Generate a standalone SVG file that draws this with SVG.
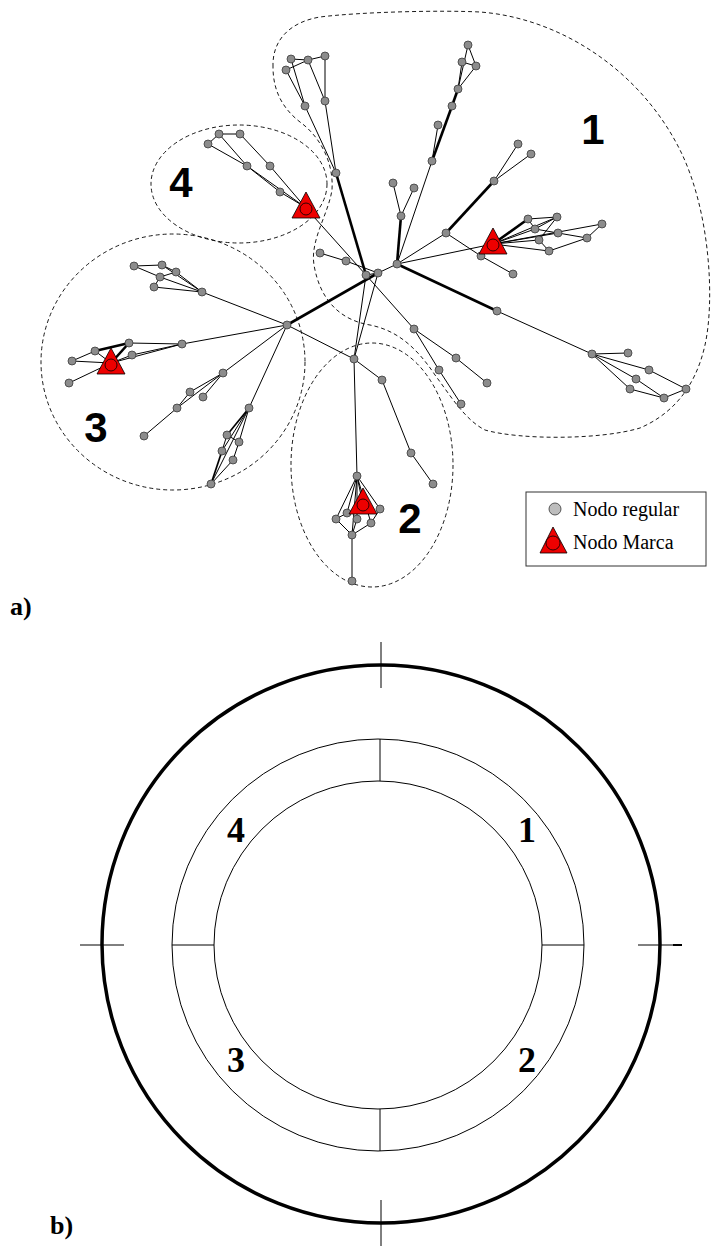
<svg xmlns="http://www.w3.org/2000/svg" width="711" height="1254" viewBox="0 0 711 1254">
<style>
.n{fill:#8c8c8c;stroke:#3a3a3a;stroke-width:0.8}
.e{stroke:#000;stroke-width:1;fill:none}
.m{stroke:#000;stroke-width:1.7;fill:none}
.t{stroke:#000;stroke-width:2.6;fill:none}
.d{fill:none;stroke:#000;stroke-width:0.9;stroke-dasharray:4,3}
.tri{fill:#ee0000;stroke:#000;stroke-width:0.8}
.cl{font-family:'Liberation Sans',Arial,sans-serif;font-weight:bold;font-size:42px;fill:#000}
.rl{font-family:'Liberation Serif','Times New Roman',serif;font-weight:bold;font-size:36px;fill:#000}
.lg{font-family:'Liberation Serif','Times New Roman',serif;font-size:20px;fill:#000}
.r{fill:none;stroke:#000;stroke-width:1}
</style>
<defs>
<g id="mark"><polygon points="0,-15 -14,11 14,11"/><circle cx="0" cy="2" r="6"/></g>
</defs>
<g id="clusters">
<path class="d" d="M273,67 C272,40 290,22 320,17 C360,12 440,10 480,12 C560,18 640,70 680,150 C710,210 715,300 705,345 C695,390 670,415 640,428 C600,440 520,440 485,430 C465,420 450,395 435,375 C415,345 395,330 370,325 C340,320 320,300 314,265 C310,240 328,215 332,190 C334,160 318,135 300,122 C282,108 273,90 273,67 Z"/>
<ellipse class="d" cx="239" cy="184" rx="88" ry="59"/>
<ellipse class="d" cx="173" cy="362" rx="132" ry="128"/>
<ellipse class="d" cx="372" cy="465" rx="81" ry="122"/>
</g>
<g id="connectors">
<line class="e" x1="291" y1="59" x2="308" y2="60"/>
<line class="e" x1="308" y1="60" x2="325" y2="56"/>
<line class="e" x1="286" y1="70" x2="308" y2="60"/>
<line class="e" x1="325" y1="56" x2="325" y2="101"/>
<line class="e" x1="291" y1="59" x2="305" y2="106"/>
<line class="e" x1="286" y1="70" x2="305" y2="106"/>
<line class="e" x1="308" y1="60" x2="325" y2="101"/>
<line class="e" x1="305" y1="106" x2="336" y2="173"/>
<line class="e" x1="325" y1="101" x2="336" y2="173"/>
<line class="t" x1="336" y1="173" x2="366" y2="275"/>
<line class="e" x1="219" y1="134" x2="240" y2="134"/>
<line class="e" x1="208" y1="144" x2="219" y2="134"/>
<line class="e" x1="219" y1="134" x2="247" y2="166"/>
<line class="e" x1="208" y1="144" x2="247" y2="166"/>
<line class="e" x1="240" y1="134" x2="270" y2="166"/>
<line class="e" x1="247" y1="166" x2="280" y2="192"/>
<line class="e" x1="247" y1="166" x2="305" y2="207"/>
<line class="e" x1="270" y1="166" x2="305" y2="207"/>
<line class="e" x1="280" y1="192" x2="305" y2="207"/>
<line class="e" x1="305" y1="207" x2="366" y2="275"/>
<line class="e" x1="366" y1="275" x2="414" y2="329"/>
<line class="e" x1="320" y1="253" x2="346" y2="261"/>
<line class="e" x1="346" y1="261" x2="378" y2="273"/>
<line class="e" x1="366" y1="275" x2="378" y2="273"/>
<line class="e" x1="378" y1="273" x2="397" y2="264"/>
<line class="t" x1="397" y1="264" x2="401" y2="216"/>
<line class="e" x1="397" y1="264" x2="432" y2="161"/>
<line class="e" x1="397" y1="264" x2="446" y2="233"/>
<line class="e" x1="397" y1="264" x2="493" y2="244"/>
<line class="t" x1="397" y1="264" x2="497" y2="311"/>
<line class="t" x1="378" y1="273" x2="287" y2="325"/>
<line class="e" x1="366" y1="275" x2="354" y2="359"/>
<line class="e" x1="378" y1="273" x2="354" y2="359"/>
<line class="e" x1="401" y1="216" x2="393" y2="183"/>
<line class="e" x1="401" y1="216" x2="414" y2="188"/>
<line class="e" x1="432" y1="161" x2="438" y2="125"/>
<line class="t" x1="432" y1="161" x2="452" y2="106"/>
<line class="t" x1="452" y1="106" x2="458" y2="89"/>
<line class="e" x1="458" y1="89" x2="468" y2="45"/>
<line class="e" x1="458" y1="89" x2="462" y2="62"/>
<line class="e" x1="458" y1="89" x2="476" y2="66"/>
<line class="e" x1="468" y1="45" x2="476" y2="66"/>
<line class="e" x1="462" y1="62" x2="476" y2="66"/>
<line class="e" x1="494" y1="181" x2="518" y2="144"/>
<line class="e" x1="494" y1="181" x2="531" y2="154"/>
<line class="t" x1="494" y1="181" x2="446" y2="233"/>
<line class="e" x1="446" y1="233" x2="481" y2="256"/>
<line class="e" x1="481" y1="256" x2="513" y2="274"/>
<line class="t" x1="493" y1="244" x2="528" y2="219"/>
<line class="e" x1="493" y1="244" x2="557" y2="217"/>
<line class="e" x1="493" y1="244" x2="535" y2="229"/>
<line class="e" x1="493" y1="244" x2="558" y2="233"/>
<line class="e" x1="493" y1="244" x2="602" y2="224"/>
<line class="e" x1="493" y1="244" x2="539" y2="240"/>
<line class="e" x1="493" y1="244" x2="549" y2="251"/>
<line class="e" x1="528" y1="219" x2="557" y2="217"/>
<line class="e" x1="528" y1="219" x2="535" y2="229"/>
<line class="e" x1="557" y1="217" x2="535" y2="229"/>
<line class="e" x1="557" y1="217" x2="539" y2="240"/>
<line class="e" x1="535" y1="229" x2="558" y2="233"/>
<line class="e" x1="558" y1="233" x2="587" y2="238"/>
<line class="e" x1="602" y1="224" x2="587" y2="238"/>
<line class="e" x1="539" y1="240" x2="549" y2="251"/>
<line class="e" x1="549" y1="251" x2="587" y2="238"/>
<line class="e" x1="497" y1="311" x2="592" y2="354"/>
<line class="e" x1="592" y1="354" x2="628" y2="353"/>
<line class="e" x1="592" y1="354" x2="649" y2="370"/>
<line class="e" x1="592" y1="354" x2="636" y2="379"/>
<line class="e" x1="592" y1="354" x2="630" y2="389"/>
<line class="e" x1="649" y1="370" x2="686" y2="389"/>
<line class="e" x1="636" y1="379" x2="664" y2="398"/>
<line class="e" x1="630" y1="389" x2="664" y2="398"/>
<line class="e" x1="664" y1="398" x2="686" y2="389"/>
<line class="e" x1="414" y1="329" x2="456" y2="358"/>
<line class="e" x1="456" y1="358" x2="487" y2="383"/>
<line class="e" x1="414" y1="329" x2="439" y2="370"/>
<line class="e" x1="439" y1="370" x2="461" y2="404"/>
<line class="e" x1="287" y1="325" x2="354" y2="359"/>
<line class="e" x1="354" y1="359" x2="357" y2="476"/>
<line class="e" x1="354" y1="359" x2="382" y2="380"/>
<line class="e" x1="382" y1="380" x2="411" y2="453"/>
<line class="e" x1="411" y1="453" x2="433" y2="484"/>
<line class="e" x1="357" y1="476" x2="363" y2="505"/>
<line class="e" x1="357" y1="476" x2="347" y2="513"/>
<line class="e" x1="357" y1="476" x2="380" y2="509"/>
<line class="e" x1="357" y1="476" x2="336" y2="519"/>
<line class="e" x1="357" y1="476" x2="357" y2="519"/>
<line class="e" x1="357" y1="476" x2="371" y2="523"/>
<line class="e" x1="357" y1="476" x2="352" y2="535"/>
<line class="e" x1="336" y1="519" x2="347" y2="513"/>
<line class="e" x1="336" y1="519" x2="352" y2="535"/>
<line class="e" x1="352" y1="535" x2="371" y2="523"/>
<line class="e" x1="371" y1="523" x2="380" y2="509"/>
<line class="e" x1="357" y1="519" x2="352" y2="535"/>
<line class="e" x1="352" y1="535" x2="352" y2="581"/>
<line class="e" x1="134" y1="266" x2="162" y2="265"/>
<line class="e" x1="134" y1="266" x2="160" y2="277"/>
<line class="e" x1="162" y1="265" x2="176" y2="272"/>
<line class="e" x1="160" y1="277" x2="176" y2="272"/>
<line class="e" x1="160" y1="277" x2="154" y2="287"/>
<line class="e" x1="160" y1="277" x2="202" y2="292"/>
<line class="e" x1="154" y1="287" x2="202" y2="292"/>
<line class="e" x1="162" y1="265" x2="202" y2="292"/>
<line class="e" x1="176" y1="272" x2="202" y2="292"/>
<line class="e" x1="202" y1="292" x2="287" y2="325"/>
<line class="e" x1="287" y1="325" x2="182" y2="344"/>
<line class="e" x1="182" y1="344" x2="129" y2="343"/>
<line class="e" x1="182" y1="344" x2="132" y2="355"/>
<line class="t" x1="129" y1="343" x2="95" y2="351"/>
<line class="t" x1="129" y1="343" x2="111" y2="363"/>
<line class="e" x1="95" y1="351" x2="111" y2="363"/>
<line class="e" x1="72" y1="361" x2="95" y2="351"/>
<line class="e" x1="72" y1="361" x2="111" y2="363"/>
<line class="e" x1="111" y1="363" x2="132" y2="355"/>
<line class="e" x1="111" y1="363" x2="182" y2="344"/>
<line class="e" x1="111" y1="363" x2="69" y2="383"/>
<line class="e" x1="287" y1="325" x2="223" y2="373"/>
<line class="e" x1="223" y1="373" x2="190" y2="392"/>
<line class="e" x1="223" y1="373" x2="203" y2="397"/>
<line class="e" x1="223" y1="373" x2="177" y2="408"/>
<line class="e" x1="190" y1="392" x2="177" y2="408"/>
<line class="e" x1="177" y1="408" x2="144" y2="436"/>
<line class="e" x1="287" y1="325" x2="249" y2="408"/>
<line class="m" x1="249" y1="408" x2="227" y2="435"/>
<line class="e" x1="249" y1="408" x2="239" y2="442"/>
<line class="e" x1="249" y1="408" x2="222" y2="451"/>
<line class="e" x1="249" y1="408" x2="211" y2="484"/>
<line class="e" x1="227" y1="435" x2="239" y2="442"/>
<line class="e" x1="227" y1="435" x2="222" y2="451"/>
<line class="e" x1="239" y1="442" x2="233" y2="460"/>
<line class="m" x1="222" y1="451" x2="211" y2="484"/>
<line class="e" x1="233" y1="460" x2="211" y2="484"/>
</g>
<g id="nodes">
<g id="n1"><circle class="n" cx="291" cy="59" r="4"/></g>
<g id="n2"><circle class="n" cx="308" cy="60" r="4"/></g>
<g id="n3"><circle class="n" cx="325" cy="56" r="4"/></g>
<g id="n4"><circle class="n" cx="286" cy="70" r="4"/></g>
<g id="n5"><circle class="n" cx="305" cy="106" r="4"/></g>
<g id="n6"><circle class="n" cx="325" cy="101" r="4"/></g>
<g id="n7"><circle class="n" cx="336" cy="173" r="4"/></g>
<g id="n8"><circle class="n" cx="219" cy="134" r="4"/></g>
<g id="n9"><circle class="n" cx="240" cy="134" r="4"/></g>
<g id="n10"><circle class="n" cx="208" cy="144" r="4"/></g>
<g id="n11"><circle class="n" cx="247" cy="166" r="4"/></g>
<g id="n12"><circle class="n" cx="270" cy="166" r="4"/></g>
<g id="n13"><circle class="n" cx="280" cy="192" r="4"/></g>
<g id="n14"><circle class="n" cx="320" cy="253" r="4"/></g>
<g id="n15"><circle class="n" cx="346" cy="261" r="4"/></g>
<g id="n16"><circle class="n" cx="366" cy="275" r="4"/></g>
<g id="n17"><circle class="n" cx="378" cy="273" r="4"/></g>
<g id="n18"><circle class="n" cx="397" cy="264" r="4"/></g>
<g id="n19"><circle class="n" cx="401" cy="216" r="4"/></g>
<g id="n20"><circle class="n" cx="393" cy="183" r="4"/></g>
<g id="n21"><circle class="n" cx="414" cy="188" r="4"/></g>
<g id="n22"><circle class="n" cx="432" cy="161" r="4"/></g>
<g id="n23"><circle class="n" cx="438" cy="125" r="4"/></g>
<g id="n24"><circle class="n" cx="452" cy="106" r="4"/></g>
<g id="n25"><circle class="n" cx="458" cy="89" r="4"/></g>
<g id="n26"><circle class="n" cx="468" cy="45" r="4"/></g>
<g id="n27"><circle class="n" cx="462" cy="62" r="4"/></g>
<g id="n28"><circle class="n" cx="476" cy="66" r="4"/></g>
<g id="n29"><circle class="n" cx="494" cy="181" r="4"/></g>
<g id="n30"><circle class="n" cx="518" cy="144" r="4"/></g>
<g id="n31"><circle class="n" cx="531" cy="154" r="4"/></g>
<g id="n32"><circle class="n" cx="446" cy="233" r="4"/></g>
<g id="n33"><circle class="n" cx="481" cy="256" r="4"/></g>
<g id="n34"><circle class="n" cx="513" cy="274" r="4"/></g>
<g id="n35"><circle class="n" cx="528" cy="219" r="4"/></g>
<g id="n36"><circle class="n" cx="557" cy="217" r="4"/></g>
<g id="n37"><circle class="n" cx="535" cy="229" r="4"/></g>
<g id="n38"><circle class="n" cx="558" cy="233" r="4"/></g>
<g id="n39"><circle class="n" cx="539" cy="240" r="4"/></g>
<g id="n40"><circle class="n" cx="549" cy="251" r="4"/></g>
<g id="n41"><circle class="n" cx="602" cy="224" r="4"/></g>
<g id="n42"><circle class="n" cx="587" cy="238" r="4"/></g>
<g id="n43"><circle class="n" cx="497" cy="311" r="4"/></g>
<g id="n44"><circle class="n" cx="592" cy="354" r="4"/></g>
<g id="n45"><circle class="n" cx="628" cy="353" r="4"/></g>
<g id="n46"><circle class="n" cx="649" cy="370" r="4"/></g>
<g id="n47"><circle class="n" cx="636" cy="379" r="4"/></g>
<g id="n48"><circle class="n" cx="630" cy="389" r="4"/></g>
<g id="n49"><circle class="n" cx="664" cy="398" r="4"/></g>
<g id="n50"><circle class="n" cx="686" cy="389" r="4"/></g>
<g id="n51"><circle class="n" cx="414" cy="329" r="4"/></g>
<g id="n52"><circle class="n" cx="456" cy="358" r="4"/></g>
<g id="n53"><circle class="n" cx="487" cy="383" r="4"/></g>
<g id="n54"><circle class="n" cx="439" cy="370" r="4"/></g>
<g id="n55"><circle class="n" cx="461" cy="404" r="4"/></g>
<g id="n56"><circle class="n" cx="354" cy="359" r="4"/></g>
<g id="n57"><circle class="n" cx="382" cy="380" r="4"/></g>
<g id="n58"><circle class="n" cx="411" cy="453" r="4"/></g>
<g id="n59"><circle class="n" cx="433" cy="484" r="4"/></g>
<g id="n60"><circle class="n" cx="357" cy="476" r="4"/></g>
<g id="n61"><circle class="n" cx="347" cy="513" r="4"/></g>
<g id="n62"><circle class="n" cx="380" cy="509" r="4"/></g>
<g id="n63"><circle class="n" cx="336" cy="519" r="4"/></g>
<g id="n64"><circle class="n" cx="357" cy="519" r="4"/></g>
<g id="n65"><circle class="n" cx="371" cy="523" r="4"/></g>
<g id="n66"><circle class="n" cx="352" cy="535" r="4"/></g>
<g id="n67"><circle class="n" cx="352" cy="581" r="4"/></g>
<g id="n68"><circle class="n" cx="134" cy="266" r="4"/></g>
<g id="n69"><circle class="n" cx="162" cy="265" r="4"/></g>
<g id="n70"><circle class="n" cx="176" cy="272" r="4"/></g>
<g id="n71"><circle class="n" cx="160" cy="277" r="4"/></g>
<g id="n72"><circle class="n" cx="154" cy="287" r="4"/></g>
<g id="n73"><circle class="n" cx="202" cy="292" r="4"/></g>
<g id="n74"><circle class="n" cx="287" cy="325" r="4"/></g>
<g id="n75"><circle class="n" cx="129" cy="343" r="4"/></g>
<g id="n76"><circle class="n" cx="182" cy="344" r="4"/></g>
<g id="n77"><circle class="n" cx="95" cy="351" r="4"/></g>
<g id="n78"><circle class="n" cx="132" cy="355" r="4"/></g>
<g id="n79"><circle class="n" cx="72" cy="361" r="4"/></g>
<g id="n80"><circle class="n" cx="69" cy="383" r="4"/></g>
<g id="n81"><circle class="n" cx="223" cy="373" r="4"/></g>
<g id="n82"><circle class="n" cx="190" cy="392" r="4"/></g>
<g id="n83"><circle class="n" cx="203" cy="397" r="4"/></g>
<g id="n84"><circle class="n" cx="177" cy="408" r="4"/></g>
<g id="n85"><circle class="n" cx="144" cy="436" r="4"/></g>
<g id="n86"><circle class="n" cx="249" cy="408" r="4"/></g>
<g id="n87"><circle class="n" cx="227" cy="435" r="4"/></g>
<g id="n88"><circle class="n" cx="239" cy="442" r="4"/></g>
<g id="n89"><circle class="n" cx="222" cy="451" r="4"/></g>
<g id="n90"><circle class="n" cx="233" cy="460" r="4"/></g>
<g id="n91"><circle class="n" cx="211" cy="484" r="4"/></g>
<g id="m4" class="tri"><use href="#mark" x="306" y="207"/></g>
<g id="m1" class="tri"><use href="#mark" x="493" y="243"/></g>
<g id="m2" class="tri"><use href="#mark" x="363" y="503"/></g>
<g id="m3" class="tri"><use href="#mark" x="111" y="363"/></g>
</g>
<g id="cluster-labels">
<text class="cl" x="593" y="144" text-anchor="middle">1</text>
<text class="cl" x="410" y="533" text-anchor="middle">2</text>
<text class="cl" x="96" y="442" text-anchor="middle">3</text>
<text class="cl" x="181" y="197" text-anchor="middle">4</text>
</g>
<g id="legend">
<rect x="526" y="492" width="180" height="74" fill="#fff" stroke="#333" stroke-width="1"/>
<circle cx="555" cy="509" r="6" fill="#bdbdbd" stroke="#333" stroke-width="0.8"/>
<text class="lg" x="573" y="516">Nodo regular</text>
<g class="tri"><polygon points="553,527 540,553 567,553"/><circle cx="553" cy="543" r="7"/></g>
<text class="lg" x="573" y="549">Nodo Marca</text>
</g>
<text x="10" y="615" font-family="'Liberation Serif','Times New Roman',serif" font-weight="bold" font-size="26">a)</text>
<g id="ring">
<circle cx="381" cy="944" r="279" fill="none" stroke="#000" stroke-width="3.5"/>
<circle class="r" cx="378" cy="945" r="206"/>
<circle class="r" cx="378" cy="945" r="164"/>
<line class="r" x1="380" y1="739" x2="380" y2="781"/>
<line class="r" x1="380" y1="1109" x2="380" y2="1151"/>
<line class="r" x1="172" y1="945" x2="214" y2="945"/>
<line class="r" x1="542" y1="945" x2="584" y2="945"/>
<line class="r" x1="381" y1="642" x2="381" y2="688"/>
<line class="r" x1="381" y1="1200" x2="381" y2="1246"/>
<line class="r" x1="80" y1="945" x2="124" y2="945"/>
<line class="r" x1="638" y1="945" x2="682" y2="945"/>
<line x1="673" y1="945" x2="682" y2="945" stroke="#000" stroke-width="2"/>
</g>
<g id="ring-labels">
<text class="rl" x="236" y="842" text-anchor="middle">4</text>
<text class="rl" x="527" y="842" text-anchor="middle">1</text>
<text class="rl" x="236" y="1072" text-anchor="middle">3</text>
<text class="rl" x="527" y="1072" text-anchor="middle">2</text>
</g>
<text x="50" y="1234" font-family="'Liberation Serif','Times New Roman',serif" font-weight="bold" font-size="26">b)</text>
</svg>
